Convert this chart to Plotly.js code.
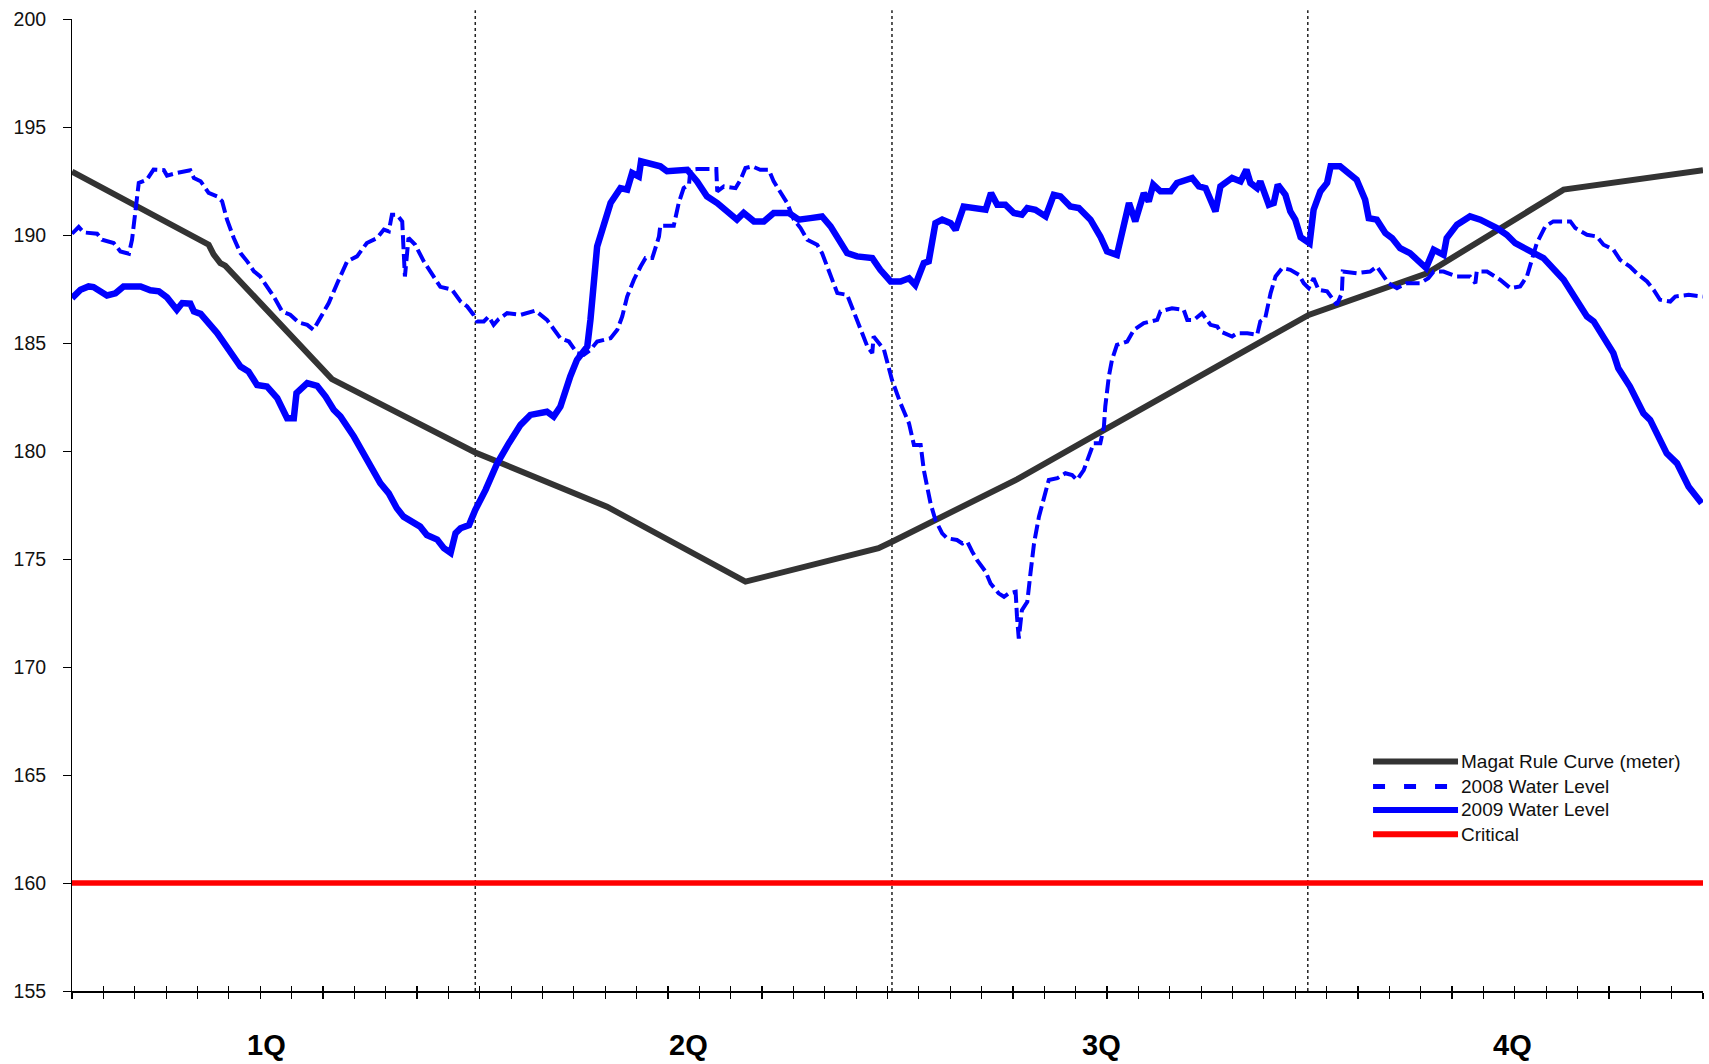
<!DOCTYPE html>
<html>
<head>
<meta charset="utf-8">
<script src="https://cdn.plot.ly/plotly-3.0.1.min.js"></script>
<style>
  html, body { margin: 0; padding: 0; background: #ffffff; }
  #chart { width: 1709px; height: 1064px; }
</style>
</head>
<body>
<div id="chart"></div>
<script>
// ---------- DATA (day of year, water level in meters) ----------
const quarterLabels = ["1Q", "2Q", "3Q", "4Q"];
const quarterLabelDays = [43.4, 137.5, 229.7, 321.4];
const quarterDividerDays = [90, 183, 275.8];

const ruleDays = [0, 30.5, 31.6, 33.1, 34.2, 58, 90, 119.4, 150.3, 180, 183, 211, 230.3, 272, 276, 302.4, 332.9, 364];
const ruleLevels = [192.93, 189.55, 189.1, 188.7, 188.58, 183.33, 179.93, 177.42, 173.95, 175.5, 175.8, 178.7, 180.97, 185.9, 186.3, 188.23, 192.1, 193.0];

const days2008 = [0, 1.5, 2.6, 5.6, 6.7, 9.3, 10.8, 12.7, 13.4, 14.1, 14.9, 16.7, 18.2, 20.5, 21.2, 23.4, 26.4, 27.2, 28.7, 30.5,
  32.4, 33.5, 34.6, 36.1, 37.6, 39.1, 40.6, 42.0, 43.5, 45.0, 46.9, 48.7, 50.6, 52.5, 53.9, 55.4, 57.3, 59.2, 61.4, 63.6,
  65.8, 68.1, 69.6, 70.7, 71.4, 72.5, 73.7, 74.0, 74.3, 75.1, 76.6, 78.5, 80.7, 82.2, 84.8, 86.7, 88.2, 89.6, 90.4, 91.9,
  93.0, 94.1, 95.2, 97.1, 100.1, 101.9, 103.4, 106.0, 107.5, 109.0, 110.9, 112.7, 114.2, 115.7, 117.2, 120.2, 121.7, 122.8, 123.9, 125.4,
  126.9, 128.0, 129.5, 131.0, 131.3, 134.3, 135.4, 136.5, 137.7, 138.0, 139.5, 141.7, 143.8, 144.0, 145.5, 148.1, 149.2, 150.3, 151.8, 153.6,
  155.5, 156.6, 158.1, 159.6, 161.1, 162.6, 164.1, 166.3, 167.4, 169.3, 170.8, 173.0, 174.5, 176.3, 177.5, 178.6, 178.9, 181.2, 183.0, 184.9,
  186.8, 187.9, 189.4, 190.1, 191.6, 192.7, 194.2, 195.3, 197.5, 198.7, 199.8, 200.9, 202.0, 203.9, 205.0, 206.8, 208.0, 209.1, 210.6, 210.9,
  211.3, 212.0, 213.2, 213.9, 214.7, 215.8, 216.9, 218.0, 219.9, 221.7, 223.2, 224.3, 225.8, 227.3, 228.0, 229.5, 230.3, 230.6, 231.4, 232.1,
  233.2, 235.5, 237.0, 239.2, 242.2, 242.9, 245.5, 248.1, 248.9, 250.4, 252.2, 254.1, 255.6, 256.3, 258.9, 260.0, 262.3, 264.5, 265.2, 266.3,
  267.5, 268.6, 270.1, 271.9, 273.8, 274.9, 276.0, 277.1, 278.2, 280.1, 281.2, 282.3, 283.4, 283.6, 286.7, 289.7, 291.2, 293.8, 295.7, 297.9,
  300.9, 302.7, 303.9, 306.1, 309.1, 312.0, 313.2, 313.5, 315.8, 318.7, 321.0, 323.2, 324.7, 325.4, 326.9, 328.8, 330.6, 334.4, 335.5, 338.1,
  340.3, 341.8, 344.0, 345.5, 347.7, 349.2, 351.5, 353.0, 354.4, 356.7, 357.8, 360.8, 364.0];
const levels2008 = [190.06, 190.37, 190.12, 190.06, 189.78, 189.63, 189.24, 189.13, 189.78, 191.17, 192.41, 192.56, 193.03, 193.0, 192.75, 192.87, 193.0, 192.64, 192.49, 191.95,
  191.79, 191.56, 190.71, 189.86, 189.16, 188.78, 188.32, 188.08, 187.62, 187.16, 186.46, 186.31, 185.95, 185.84, 185.61, 186.15, 186.85, 187.77, 188.78, 189.01,
  189.63, 189.86, 190.25, 190.17, 190.94, 190.94, 190.63, 189.32, 188.08, 189.86, 189.55, 188.78, 188.1, 187.6, 187.47, 186.93, 186.69, 186.31, 186.0, 186.0,
  186.23, 185.84, 186.1, 186.38, 186.3, 186.41, 186.5, 186.07, 185.61, 185.22, 185.07, 184.53, 184.45, 184.68, 185.07, 185.22, 185.61, 186.23, 187.15, 187.93,
  188.54, 188.93, 188.93, 189.93, 190.43, 190.43, 191.48, 192.17, 192.33, 193.02, 193.05, 193.05, 193.05, 192.02, 192.25, 192.17, 192.56, 193.1, 193.18, 193.02,
  193.02, 192.48, 192.02, 191.48, 190.71, 190.32, 189.78, 189.55, 189.16, 188.08, 187.31, 187.23, 186.46, 185.45, 184.84, 184.53, 185.3, 184.7, 183.29, 182.21,
  181.28, 180.28, 180.28, 179.12, 177.58, 176.8, 176.19, 175.96, 175.88, 175.72, 175.8, 175.34, 174.95, 174.41, 173.87, 173.41, 173.25, 173.41, 173.48, 172.33,
  171.32, 172.63, 173.02, 174.33, 175.72, 176.96, 177.89, 178.66, 178.74, 178.97, 178.89, 178.66, 179.12, 179.89, 180.36, 180.36, 181.13, 182.06, 183.45, 184.22,
  184.91, 185.07, 185.61, 185.92, 186.07, 186.46, 186.61, 186.54, 186.07, 186.07, 186.38, 185.84, 185.76, 185.53, 185.3, 185.45, 185.45, 185.38, 186.0, 186.15,
  187.31, 188.08, 188.47, 188.39, 188.16, 187.77, 187.54, 188.0, 187.46, 187.39, 187.08, 186.77, 187.31, 188.31, 188.23, 188.31, 188.54, 187.77, 187.54, 187.77,
  187.77, 188.0, 188.31, 188.31, 188.08, 188.08, 187.77, 188.31, 188.31, 187.93, 187.54, 187.62, 188.08, 188.54, 189.62, 190.4, 190.63, 190.63, 190.32, 190.01,
  189.93, 189.55, 189.32, 188.85, 188.54, 188.23, 187.85, 187.46, 187.0, 186.92, 187.15, 187.23, 187.15];

const days2009 = [0, 1.9, 3.7, 4.8, 7.8, 9.7, 11.5, 15.3, 17.5, 19.4, 21.2, 23.4, 24.6, 26.4, 27.2, 28.7, 32.4, 36.1, 37.6, 39.4,
  41.3, 43.5, 45.8, 48.0, 49.5, 50.1, 52.5, 54.7, 56.6, 58.4, 59.9, 62.9, 65.8, 68.8, 70.7, 72.5, 74.0, 77.7, 79.2, 81.5,
  83.0, 84.5, 85.6, 86.7, 88.6, 90.0, 92.3, 94.9, 97.5, 100.1, 102.3, 106.0, 107.5, 109.0, 111.2, 112.7, 115.0, 115.7, 117.2, 118.7,
  120.2, 122.4, 123.9, 125.0, 126.5, 127.0, 128.4, 131.3, 132.8, 135.0, 137.3, 139.5, 141.7, 144.0, 146.2, 148.4, 149.9, 152.2, 154.4, 156.6,
  160.0, 162.2, 164.8, 167.4, 169.3, 173.0, 175.2, 178.6, 180.4, 182.7, 184.9, 186.8, 188.2, 190.1, 191.2, 192.7, 194.2, 196.1, 197.2, 199.0,
  203.9, 205.1, 206.5, 208.3, 210.2, 212.0, 213.2, 215.0, 217.3, 219.1, 220.6, 222.8, 224.7, 227.3, 229.5, 231.0, 233.2, 234.7, 235.9, 237.3,
  239.2, 240.3, 241.3, 242.9, 245.2, 246.6, 250.0, 251.5, 253.0, 255.2, 256.3, 258.9, 260.8, 262.1, 263.0, 264.5, 265.2, 267.1, 268.2, 269.1,
  270.8, 271.9, 273.0, 274.2, 275.5, 276.2, 277.1, 278.6, 280.1, 280.9, 283.0, 285.3, 286.7, 288.6, 289.4, 291.2, 293.1, 294.6, 296.4, 298.6,
  300.9, 302.2, 303.9, 306.1, 306.8, 309.1, 312.0, 314.3, 318.0, 320.2, 322.1, 325.4, 328.4, 332.9, 335.1, 338.1, 339.6, 342.2, 344.0, 345.1,
  347.7, 350.7, 352.2, 355.9, 358.2, 360.8, 363.7];
const levels2009 = [187.08, 187.47, 187.62, 187.59, 187.2, 187.3, 187.62, 187.62, 187.44, 187.39, 187.11, 186.54, 186.85, 186.82, 186.46, 186.35, 185.46, 184.38, 183.91, 183.68,
  183.06, 182.99, 182.45, 181.52, 181.52, 182.68, 183.14, 183.02, 182.52, 181.91, 181.6, 180.67, 179.67, 178.51, 178.04, 177.35, 176.96, 176.5, 176.11, 175.9,
  175.5, 175.28, 176.2, 176.42, 176.57, 177.27, 178.2, 179.43, 180.36, 181.21, 181.67, 181.82, 181.59, 182.06, 183.45, 184.22, 184.84, 186.07, 189.47, 190.55,
  191.48, 192.17, 192.1, 192.87, 192.71, 193.41, 193.33, 193.18, 192.95, 193.02, 193.02, 192.48, 191.79, 191.48, 191.09, 190.71, 191.02, 190.63, 190.63, 191.02,
  191.02, 190.71, 190.78, 190.86, 190.4, 189.16, 189.01, 188.93, 188.39, 187.85, 187.85, 188.0, 187.69, 188.7, 188.78, 190.55, 190.71, 190.55, 190.24, 191.32,
  191.17, 191.94, 191.4, 191.4, 191.02, 190.94, 191.25, 191.17, 190.86, 191.86, 191.79, 191.32, 191.25, 190.71, 189.93, 189.24, 189.08, 190.32, 191.48, 190.63,
  191.94, 191.56, 192.33, 192.02, 192.02, 192.41, 192.64, 192.25, 192.17, 191.09, 192.25, 192.64, 192.48, 193.02, 192.41, 192.17, 192.48, 191.4, 191.48, 192.33,
  191.86, 191.09, 190.71, 189.9, 189.7, 189.62, 191.17, 192.02, 192.41, 193.18, 193.18, 192.79, 192.56, 191.63, 190.78, 190.71, 190.09, 189.86, 189.39, 189.16,
  188.78, 188.47, 189.32, 189.08, 189.86, 190.48, 190.86, 190.71, 190.32, 190.01, 189.62, 189.24, 188.93, 187.93, 187.15, 186.23, 186.0, 185.07, 184.53, 183.83,
  182.98, 181.75, 181.44, 179.89, 179.43, 178.35, 177.58];

const criticalDays = [0, 364];
const criticalLevels = [160, 160];

const seriesNames = ["Magat Rule Curve (meter)", "2008 Water Level", "2009 Water Level", "Critical"];
const yTickValues = [155, 160, 165, 170, 175, 180, 185, 190, 195, 200];

// ---------- STYLE ----------
const GRAY = "#333333", BLUE = "#0000FF", RED = "#FF0000";
const FONT = "Liberation Sans, Arial, sans-serif";
const weekTicks = [];
for (let d = 0; d <= 364; d += 7) weekTicks.push(d);

const traces = [
  { x: ruleDays, y: ruleLevels, name: seriesNames[0], type: "scatter", mode: "lines",
    line: { color: GRAY, width: 6 } },
  { x: days2008, y: levels2008, name: seriesNames[1], type: "scatter", mode: "lines",
    line: { color: BLUE, width: 4, dash: "14px,5px" } },
  { x: days2009, y: levels2009, name: seriesNames[2], type: "scatter", mode: "lines",
    line: { color: BLUE, width: 6.5 } },
  { x: criticalDays, y: criticalLevels, name: seriesNames[3], type: "scatter", mode: "lines",
    xaxis: "x2", line: { color: RED, width: 5.5 } }
];

const shapes = quarterDividerDays.map(d => ({
  type: "line", xref: "x", yref: "paper", x0: d, x1: d, y0: 0, y1: 1.009,
  line: { color: "#222222", width: 1.5, dash: "dot" }, layer: "below"
}));

// custom legend (paper coords)
const legX0 = 0.7977, legX1 = 0.8498, legTextX = 0.8505;
const legRows = [0.236, 0.2105, 0.1863, 0.1612];
const legStyles = [
  { color: GRAY, width: 6, dash: "solid" },
  { color: BLUE, width: 5, dash: "12px,19px" },
  { color: BLUE, width: 6, dash: "solid" },
  { color: RED, width: 6, dash: "solid" }
];
const annotations = [];
seriesNames.forEach((nm, i) => {
  shapes.push({ type: "line", xref: "paper", yref: "paper", x0: legX0, x1: legX1,
    y0: legRows[i], y1: legRows[i], line: legStyles[i], layer: "above" });
  annotations.push({ xref: "paper", yref: "paper", x: legTextX, y: legRows[i],
    xanchor: "left", yanchor: "middle", text: nm, showarrow: false,
    font: { family: FONT, size: 19, color: "#111111" } });
});
quarterLabels.forEach((q, i) => {
  annotations.push({ xref: "x", yref: "paper", x: quarterLabelDays[i], y: 0, yshift: -54,
    xanchor: "center", yanchor: "middle", text: "<b>" + q + "</b>", showarrow: false,
    font: { family: FONT, size: 29, color: "#000000" } });
});

const layout = {
  width: 1709, height: 1064,
  margin: { l: 72, r: 6, t: 19, b: 73, pad: 0 },
  paper_bgcolor: "#ffffff", plot_bgcolor: "#ffffff",
  showlegend: false,
  font: { family: FONT, size: 19, color: "#000000" },
  xaxis: {
    range: [0, 364], tickmode: "array", tickvals: weekTicks, showticklabels: false,
    ticks: "outside", ticklen: 6, tickwidth: 1.2, tickcolor: "#000000",
    showline: true, linecolor: "#000000", linewidth: 1.5,
    showgrid: false, zeroline: false, fixedrange: true
  },
  xaxis2: {
    overlaying: "x", anchor: "y", side: "bottom",
    range: [0, 364], tickmode: "array", tickvals: weekTicks, showticklabels: false,
    ticks: "inside", ticklen: 5, tickwidth: 1.2, tickcolor: "#000000",
    showline: false, showgrid: false, zeroline: false, fixedrange: true
  },
  yaxis: {
    range: [155, 200], tickmode: "array", tickvals: yTickValues,
    ticks: "outside", ticklen: 8, tickwidth: 1, tickcolor: "#000000",
    ticklabelstandoff: 13,
    tickfont: { family: FONT, size: 19.5, color: "#111111" },
    showline: true, linecolor: "#000000", linewidth: 1,
    showgrid: false, zeroline: false, fixedrange: true
  },
  shapes: shapes,
  annotations: annotations
};

Plotly.newPlot("chart", traces, layout, { displayModeBar: false, staticPlot: true });
</script>
</body>
</html>
